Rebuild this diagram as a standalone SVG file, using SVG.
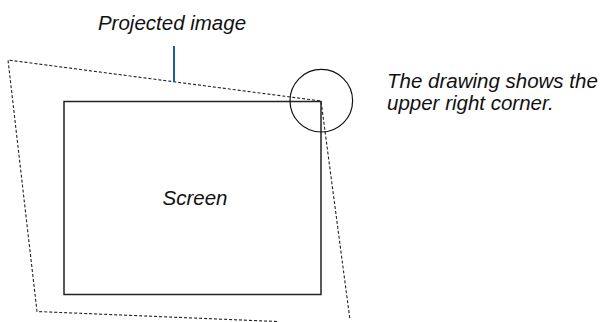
<svg xmlns="http://www.w3.org/2000/svg" width="607" height="322" viewBox="0 0 607 322">
<style>
text{font-family:"Liberation Sans",Arial,sans-serif;font-style:italic;font-size:20.5px;fill:#111}
.dash{fill:none;stroke:#222;stroke-width:1.1;stroke-dasharray:3 2}
</style>
<rect width="607" height="322" fill="#fff"/>
<g id="projected-image">
<polyline class="dash" points="277,321.5 37,311.5 8,60 321,101 350,320"/>
<text x="172" y="30" text-anchor="middle">Projected image</text>
</g>
<g id="screen">
<rect x="64" y="101.5" width="257" height="193" fill="none" stroke="#222" stroke-width="1.5"/>
<text x="195" y="205" text-anchor="middle">Screen</text>
</g>
<g id="corner-callout">
<circle cx="321.3" cy="100.7" r="31.3" fill="none" stroke="#111" stroke-width="1.2"/>
<text x="387" y="88">The drawing shows the</text>
<text x="387" y="110">upper right corner.</text>
</g>
<g id="connectors">
<line x1="174" y1="46" x2="174" y2="82" stroke="#1f5aa6" stroke-width="2"/>
</g>
</svg>
